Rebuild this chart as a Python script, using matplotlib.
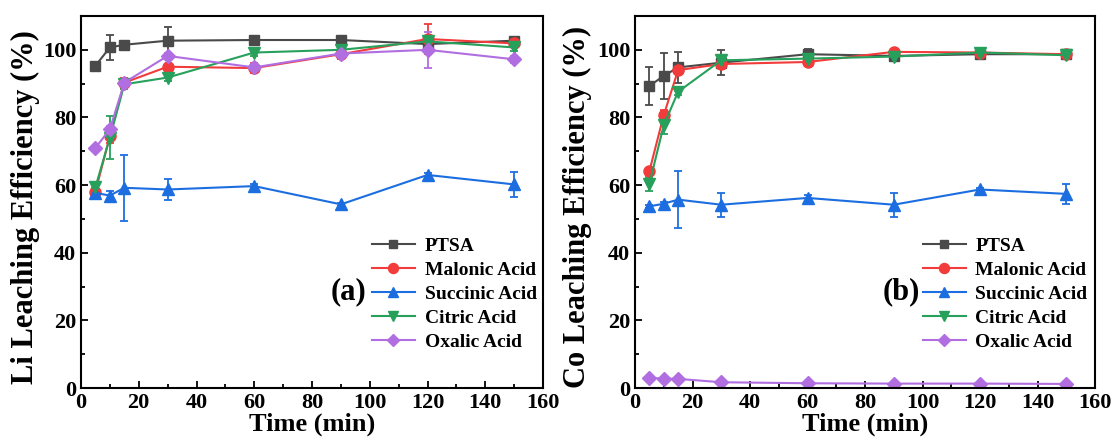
import matplotlib
matplotlib.use("Agg")
import matplotlib.pyplot as plt
from matplotlib.ticker import MultipleLocator
from matplotlib.lines import Line2D

plt.rcParams['font.family'] = ['Liberation Serif', 'DejaVu Serif']
plt.rcParams['font.weight'] = 'bold'

time = [5, 10, 15, 30, 60, 90, 120, 150]
series_names = ["PTSA", "Malonic Acid", "Succinic Acid", "Citric Acid", "Oxalic Acid"]

# Panel (a) Li
li_ptsa = [95.3, 100.7, 101.5, 102.7, 102.9, 102.9, 101.7, 102.7]
li_ptsa_err = [1.0, 3.7, 1.0, 4.0, 1.0, 1.0, 1.0, 1.0]
li_malonic = [58.1, 74.5, 90.3, 95.0, 94.6, 98.7, 103.2, 101.9]
li_malonic_err = [1.0, 2.0, 1.5, 3.0, 1.5, 1.5, 4.5, 1.0]
li_succinic = [57.7, 56.9, 59.2, 58.7, 59.7, 54.3, 63.0, 60.2]
li_succinic_err = [1.0, 1.5, 9.7, 3.1, 0.5, 0.5, 0.5, 3.7]
li_citric = [59.4, 74.0, 89.8, 91.8, 99.2, 100.0, 102.5, 100.7]
li_citric_err = [1.0, 6.4, 1.5, 1.0, 1.0, 1.5, 1.0, 1.0]
li_oxalic = [71.0, 76.5, 90.3, 98.2, 94.8, 98.9, 100.0, 97.2]
li_oxalic_err = [0.5, 1.0, 1.0, 1.0, 1.0, 1.0, 5.3, 1.0]

# Panel (b) Co
co_ptsa = [89.3, 92.3, 94.8, 96.2, 98.7, 98.2, 98.7, 98.7]
co_ptsa_err = [5.7, 6.7, 4.5, 3.7, 1.5, 1.0, 1.0, 1.0]
co_malonic = [64.1, 80.7, 94.0, 95.8, 96.4, 99.4, 99.2, 98.7]
co_malonic_err = [1.0, 1.5, 1.0, 1.0, 1.0, 0.5, 0.5, 0.5]
co_succinic = [53.7, 54.5, 55.7, 54.2, 56.2, 54.2, 58.7, 57.4]
co_succinic_err = [0.5, 0.5, 8.5, 3.6, 1.0, 3.5, 0.5, 3.0]
co_citric = [60.4, 77.7, 87.6, 96.9, 97.4, 98.0, 99.2, 98.4]
co_citric_err = [2.0, 2.5, 1.0, 1.0, 1.0, 1.0, 0.5, 1.0]
co_oxalic = [3.0, 2.8, 2.7, 1.7, 1.4, 1.3, 1.3, 1.2]
co_oxalic_err = [0.3, 0.3, 0.3, 0.2, 0.2, 0.2, 0.2, 0.2]

colors = ["#4a4a4a", "#f23b3b", "#1c6ee0", "#27a05c", "#b06ee0"]
markers = ["s", "o", "^", "v", "D"]
msizes = [7, 8, 8, 8, 7]

fig = plt.figure(figsize=(11.15, 4.45), dpi=100)
ax_a = fig.add_axes([81/1115, 1-388/445, 462/1115, 372/445])
ax_b = fig.add_axes([635/1115, 1-388/445, 460/1115, 372/445])

panels = [
    (ax_a, [li_ptsa, li_malonic, li_succinic, li_citric, li_oxalic],
     [li_ptsa_err, li_malonic_err, li_succinic_err, li_citric_err, li_oxalic_err],
     "Li Leaching Efficiency (%)", "(a)", 0.630, 0.578, -0.089),
    (ax_b, [co_ptsa, co_malonic, co_succinic, co_citric, co_oxalic],
     [co_ptsa_err, co_malonic_err, co_succinic_err, co_citric_err, co_oxalic_err],
     "Co Leaching Efficiency (%)", "(b)", 0.626, 0.580, -0.093),
]

for ax, ys, errs, ylabel, tag, legx, tagx, labx in panels:
    handles = []
    for name, y, e, c, m, ms in zip(series_names, ys, errs, colors, markers, msizes):
        ax.errorbar(time, y, yerr=e, color=c, marker=m, markersize=ms,
                    linewidth=1.5, capsize=3, elinewidth=1.3, capthick=1.3)
        handles.append(Line2D([], [], color=c, marker=m, markersize=ms * 0.9,
                              linewidth=1.5, label=name))
    ax.set_xlim(0, 160)
    ax.set_ylim(0, 110)
    ax.xaxis.set_major_locator(MultipleLocator(20))
    ax.xaxis.set_minor_locator(MultipleLocator(10))
    ax.yaxis.set_major_locator(MultipleLocator(20))
    ax.yaxis.set_minor_locator(MultipleLocator(10))
    ax.tick_params(which='both', direction='in', top=False, right=False,
                   labelsize=16, width=1.3)
    ax.tick_params(which='major', length=5)
    ax.tick_params(which='minor', length=3)
    for lab in ax.get_xticklabels() + ax.get_yticklabels():
        lab.set_fontweight('bold')
    for sp in ax.spines.values():
        sp.set_linewidth(1.5)
    ax.set_xlabel("Time (min)", fontsize=19, fontweight='bold', labelpad=0)
    ax.set_ylabel(ylabel, fontsize=22, fontweight='bold', labelpad=0)
    ax.yaxis.set_label_coords(labx, 0.487)
    ax.legend(handles=handles, loc='upper left', bbox_to_anchor=(legx, 0.405),
              frameon=False, handlelength=2.2, handletextpad=0.5,
              labelspacing=0.33, borderaxespad=0.0, borderpad=0.0,
              prop={'weight': 'bold', 'size': 14})
    ax.text(tagx, 0.258, tag, transform=ax.transAxes, fontsize=22,
            fontweight='bold', ha='center', va='center')

fig.savefig("out.png", dpi=100)
